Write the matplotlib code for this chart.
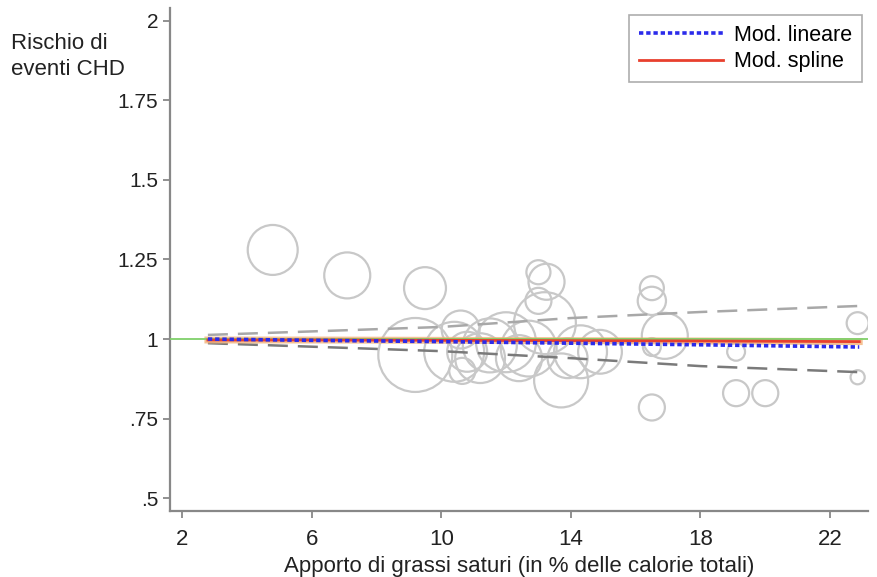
import matplotlib
matplotlib.use("Agg")
import matplotlib.pyplot as plt
import numpy as np

# studi (cerchi pesati)
studi_x = [4.8, 7.1, 9.5, 9.2, 10.4, 10.6, 10.65, 10.8, 11.5, 11.2, 12.0, 12.4,
           13.0, 13.25, 13.0, 13.2, 13.7, 13.9, 14.9, 12.7, 14.3,
           16.5, 16.5, 16.9, 16.5, 16.5, 19.1, 19.1, 20.0, 22.85, 22.85]
studi_rr = [1.28, 1.20, 1.16, 0.95, 0.96, 1.03, 0.90, 0.96, 0.98, 0.94, 0.99, 0.94,
            1.21, 1.18, 1.12, 1.05, 0.87, 0.94, 0.96, 0.97, 0.96,
            1.16, 1.12, 1.01, 0.975, 0.785, 0.96, 0.83, 0.83, 1.05, 0.88]
studi_peso = [625, 530, 440, 1370, 900, 360, 170, 400, 730, 620, 900, 530,
              145, 325, 170, 960, 730, 400, 480, 780, 700,
              145, 200, 530, 80, 170, 80, 170, 170, 120, 50]

# curve stimate
curva_x = [2.8, 6.0, 10.0, 14.0, 18.0, 22.9]
lineare = [1.000, 0.996, 0.992, 0.987, 0.982, 0.975]
spline = [0.997, 0.997, 0.996, 0.995, 0.994, 0.992]
ic_sup = [1.013, 1.024, 1.038, 1.066, 1.085, 1.104]
ic_inf = [0.987, 0.976, 0.962, 0.940, 0.915, 0.896]

xticks = [2, 6, 10, 14, 18, 22]
yticks = [0.5, 0.75, 1.0, 1.25, 1.5, 1.75, 2.0]
ytick_labels = [".5", ".75", "1", "1.25", "1.5", "1.75", "2"]

plt.rcParams["font.family"] = ["Liberation Sans", "DejaVu Sans"]

fig = plt.figure(figsize=(8.78, 5.77), dpi=100)
ax = fig.add_axes([0.1936, 0.114, 0.795, 0.872])

ax.scatter(studi_x, studi_rr, s=np.array(studi_peso) * 2.07, facecolors="none",
           edgecolors="#c8c8c8", linewidths=1.6, zorder=2)

ax.plot(curva_x, ic_sup, color="#a8a8a8", lw=1.8, dashes=(8, 4), zorder=3)
ax.plot(curva_x, ic_inf, color="#7a7a7a", lw=1.8, dashes=(8, 4), zorder=3)
ax.plot(curva_x, spline, color="#f2b27a", lw=5, alpha=0.8, zorder=3)
ax.axhline(1.0, color="#7fd06a", lw=1.3, zorder=4)
ax.plot(curva_x, spline, color="#e8402e", lw=2, zorder=5, label="Mod. spline")
ax.plot(curva_x, lineare, color="#2b2bea", lw=2.6, ls=(0, (1.2, 0.8)), zorder=6,
        label="Mod. lineare")

ax.set_xlim(1.63, 23.17)
ax.set_ylim(0.459, 2.04)
ax.set_xticks(xticks)
ax.set_yticks(yticks)
ax.set_yticklabels(ytick_labels)
ax.tick_params(axis="both", colors="#888888", width=1.3, length=5, labelsize=15,
               labelcolor="#222222")
ax.tick_params(axis="x", pad=8, labelsize=16)

for side in ["top", "right"]:
    ax.spines[side].set_visible(False)
for side in ["left", "bottom"]:
    ax.spines[side].set_color("#888888")
    ax.spines[side].set_linewidth(1.6)

ax.set_xlabel("Apporto di grassi saturi (in % delle calorie totali)", fontsize=16,
              color="#222222", labelpad=4)
fig.text(0.012, 0.902, "Rischio di\neventi CHD", fontsize=16, color="#222222",
         ha="left", va="center", linespacing=1.3)

h, l = ax.get_legend_handles_labels()
leg = ax.legend(h[::-1], l[::-1], loc="upper right", bbox_to_anchor=(0.991, 0.986),
                borderaxespad=0, fontsize=15.5, handlelength=3.9, frameon=True,
                fancybox=False, borderpad=0.45, labelspacing=0.25, handletextpad=0.5)
leg.get_frame().set_edgecolor("#999999")
leg.get_frame().set_linewidth(1.2)

fig.savefig("out.png", dpi=100)
